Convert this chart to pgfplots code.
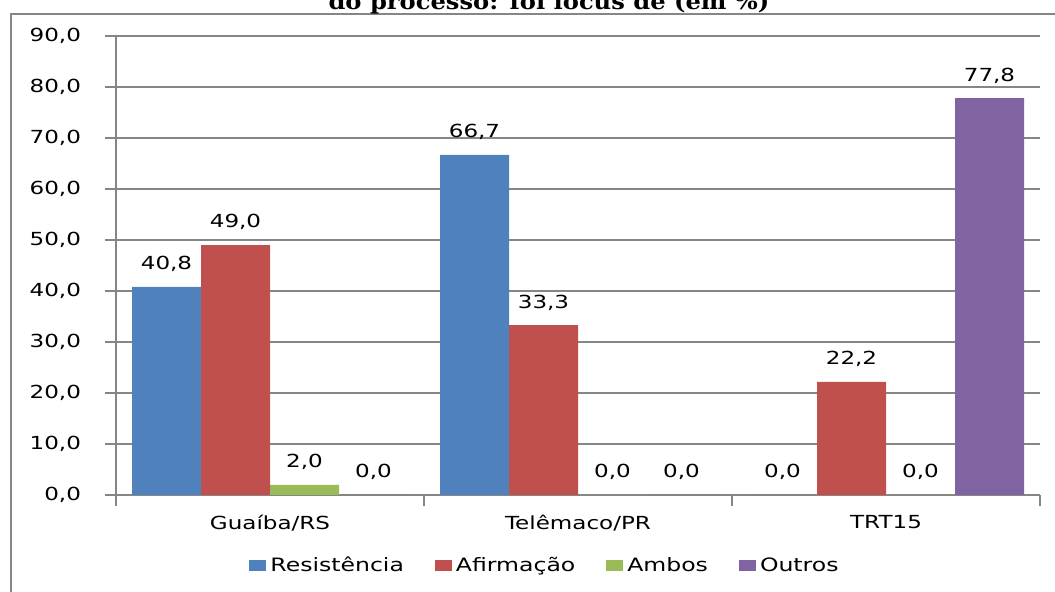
\documentclass[border=0pt]{standalone}
\usepackage{pgfplots}
\pgfplotsset{compat=1.18}
\usepackage{fontspec}
\setmainfont{DejaVu Sans}[FakeStretch=1.28]
\newfontfamily\titlefont{DejaVu Serif}[FakeStretch=1.1]
\definecolor{cblue}{HTML}{4F81BD}
\definecolor{cred}{HTML}{C0504D}
\definecolor{cgreen}{HTML}{9BBB59}
\definecolor{cpurple}{HTML}{8064A2}
\definecolor{axgray}{HTML}{868686}
\begin{document}
\begin{tikzpicture}
\useasboundingbox (0,0) rectangle (527.5pt,296pt);
\draw[color=axgray, line width=1.2pt] (5.5pt,-2pt) -- (5.5pt,289pt) -- (530pt,289pt);
\node[anchor=base, inner sep=0pt, font=\titlefont\bfseries\fontsize{11}{12}\selectfont] at (274.5pt,291pt) {do processo: foi locus de (em \%)};
\begin{axis}[
  at={(58pt,48.5pt)}, anchor=south west,
  scale only axis, width=462pt, height=229.5pt,
  ybar=0pt, bar width=34.5pt,
  xmin=-0.5, xmax=2.5, ymin=0, ymax=90,
  ytick={0,10,...,90},
  ymajorgrids, grid style={color=axgray, line width=0.6pt},
  axis x line*=bottom, axis y line*=left,
  axis line style={color=axgray, line width=0.6pt},
  tick style={color=axgray, line width=0.6pt},
  tick align=outside, major tick length=5.5pt,
  xtick={-0.5,0.5,1.5,2.5}, xticklabels={},
  extra x ticks={0,1,2}, extra x tick labels={Guaíba/RS, Telêmaco/PR, TRT15},
  extra x tick style={major tick length=0pt, grid=none, xticklabel style={yshift=-6.5pt}},
  /pgf/number format/assume math mode=true,
  yticklabel style={/pgf/number format/.cd, fixed, fixed zerofill, precision=1, use comma, /tikz/.cd, xshift=-8.5pt},
  tick label style={font=\fontsize{9}{10}\selectfont, text=black},
  nodes near coords={\pgfmathprintnumber[fixed, fixed zerofill, precision=1, use comma, assume math mode=true]{\pgfplotspointmeta}},
  nodes near coords style={font=\fontsize{9}{10}\selectfont, text=black, anchor=south, yshift=4pt},
  legend style={at={(0.4654,-0.1547)}, anchor=center, draw=none, fill=none,
    legend columns=-1, font=\fontsize{9.2}{10}\selectfont,
    /tikz/every even column/.append style={column sep=13.5pt}},
  legend image code/.code={\fill[#1] (0pt,-2.75pt) rectangle (8.5pt,2.75pt);},
]
\addplot[fill=cblue, draw=none] coordinates {(0,40.8) (1,66.7) (2,0.0)};
\addplot[fill=cred, draw=none] coordinates {(0,49.0) (1,33.3) (2,22.2)};
\addplot[fill=cgreen, draw=none] coordinates {(0,2.0) (1,0.0) (2,0.0)};
\addplot[fill=cpurple, draw=none] coordinates {(0,0.0) (1,0.0) (2,77.8)};
\legend{Resistência, Afirmação, Ambos, Outros}
\end{axis}
\end{tikzpicture}
\end{document}
